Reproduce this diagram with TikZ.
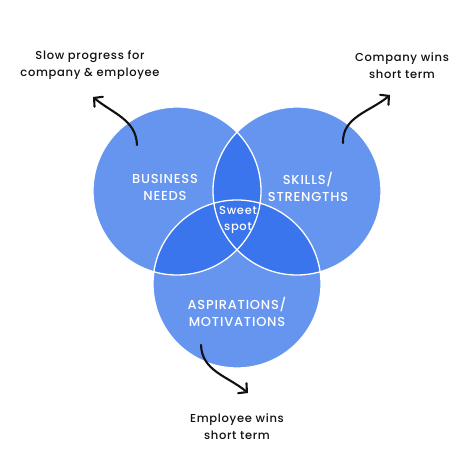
\documentclass[tikz,border=0pt]{standalone}
\usepackage{fontspec}
\setmainfont{Poppins}[LetterSpace=6]
\newfontfamily\medfont{Poppins Medium}[LetterSpace=6]
\usepackage{tikz}
\usetikzlibrary{arrows.meta}
\definecolor{vennlight}{RGB}{101,149,238}
\definecolor{venndark}{RGB}{58,117,238}
\definecolor{inkblack}{RGB}{17,17,17}

\begin{document}
\begin{tikzpicture}[
  x=1pt,y=1pt,
  venn/.style={circle,fill=vennlight,minimum size=168pt,inner sep=0pt},
  outline/.style={draw=white,line width=1.3pt},
  inlabel/.style={text=white,font=\medfont\fontsize{13}{17}\selectfont,align=center,inner sep=1pt},
  outlabel/.style={text=inkblack,font=\medfont\fontsize{11.5}{17}\selectfont,align=center,inner sep=1pt},
  curvearr/.style={-{Straight Barb[length=6pt,width=13pt,line cap=round]},inkblack,line width=2.1pt,line cap=round},
]
  \useasboundingbox[fill=white] (0,0) rectangle (474,474);
  % the three sets
  \node[venn] (biz) at (177,283) {};
  \node[venn] (skill) at (297,283) {};
  \node[venn] (asp) at (237,190) {};
  % overlaps
  \begin{scope}
    \clip (biz.center) circle (84);
    \fill[venndark] (skill.center) circle (84);
    \fill[venndark] (asp.center) circle (84);
  \end{scope}
  \begin{scope}
    \clip (skill.center) circle (84);
    \fill[venndark] (asp.center) circle (84);
  \end{scope}
  \foreach \n in {biz,skill,asp}
    \draw[outline] (\n.center) circle (84);
  % labels inside
  \node[inlabel] (bizlbl) at (165,287) {BUSINESS\\NEEDS};
  \node[inlabel] (skilllbl) at (308,287) {SKILLS/\\STRENGTHS};
  \node[inlabel] (asplbl) at (237,162) {ASPIRATIONS/\\MOTIVATIONS};
  \node[inlabel,font=\medfont\fontsize{11.5}{16}\selectfont] (sweet) at (238,254) {Sweet\\spot};
  % outcomes
  \node[outlabel] (slow) at (90,409) {Slow progress for\\company \& employee};
  \node[outlabel] (compwins) at (402,408) {Company wins\\short term};
  \node[outlabel] (empwins) at (237,47) {Employee wins\\short term};
  \coordinate (slowtail) at (137,329);
  \coordinate (slowtip) at (93,377);
  \coordinate (comptail) at (343,331);
  \coordinate (comptip) at (390,379);
  \coordinate (emptail) at (201,129);
  \coordinate (emptip) at (248,81);
  \draw[curvearr] (slowtail) to[out=92,in=-40] (slowtip);
  \draw[curvearr] (comptail) to[out=92,in=-140] (comptip);
  \draw[curvearr] (emptail) to[out=-88,in=140] (emptip);
\end{tikzpicture}
\end{document}
